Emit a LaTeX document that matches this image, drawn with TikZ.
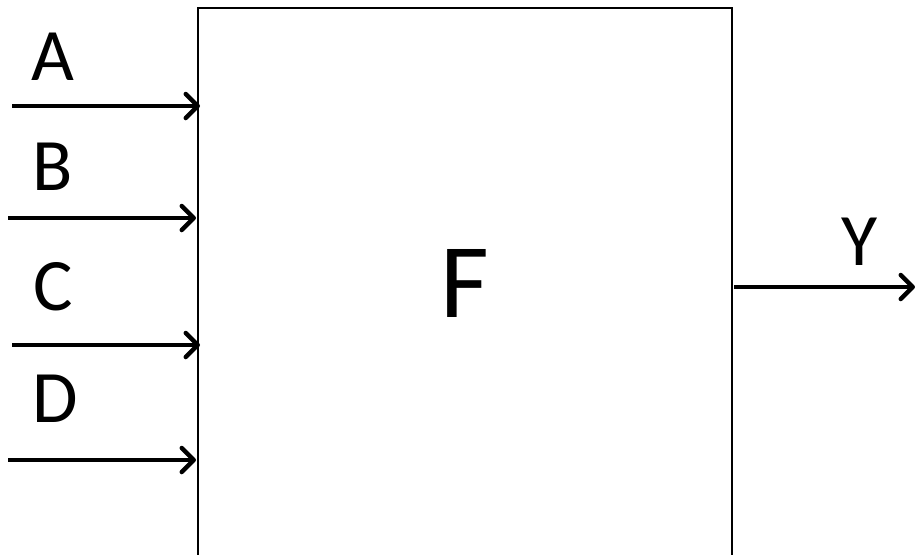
\documentclass[tikz,border=0pt]{standalone}
\usepackage{fontspec}
\setmainfont{Carlito}
\usetikzlibrary{arrows.meta}
\begin{document}
\begin{tikzpicture}[x=1pt,y=-1pt,
  sig/.style={line width=4.5pt,-{Straight Barb[length=12pt,width=24pt,round]}},
  lbl/.style={anchor=base,inner sep=0pt,font=\fontsize{74}{80}\selectfont},
  blk/.style={draw,line width=2pt,inner sep=0pt}]
\useasboundingbox (0,0) rectangle (915,554);
\clip (0,0) rectangle (915,554);
\node[blk,minimum width=534pt,minimum height=580pt,anchor=north west] (box) at (197,7) {};
\node[anchor=base,inner sep=0pt,font=\fontsize{106}{110}\selectfont] (f) at (465,317) {F};
\coordinate (a0) at (12,106); \coordinate (a1) at (200,106);
\coordinate (b0) at (8,218);  \coordinate (b1) at (196,218);
\coordinate (c0) at (12,345); \coordinate (c1) at (200,345);
\coordinate (d0) at (8,460);  \coordinate (d1) at (196,460);
\coordinate (y0) at (734,287); \coordinate (y1) at (915,287);
\draw[sig] (a0) -- (a1);
\draw[sig] (b0) -- (b1);
\draw[sig] (c0) -- (c1);
\draw[sig] (d0) -- (d1);
\draw[sig] (y0) -- (y1);
\node[lbl] (la) at (53,80) {A};
\node[lbl] (lb) at (53,190) {B};
\node[lbl] (lc) at (53,310) {C};
\node[lbl] (ld) at (55,422) {D};
\node[lbl] (ly) at (860,265) {Y};
\end{tikzpicture}
\end{document}
